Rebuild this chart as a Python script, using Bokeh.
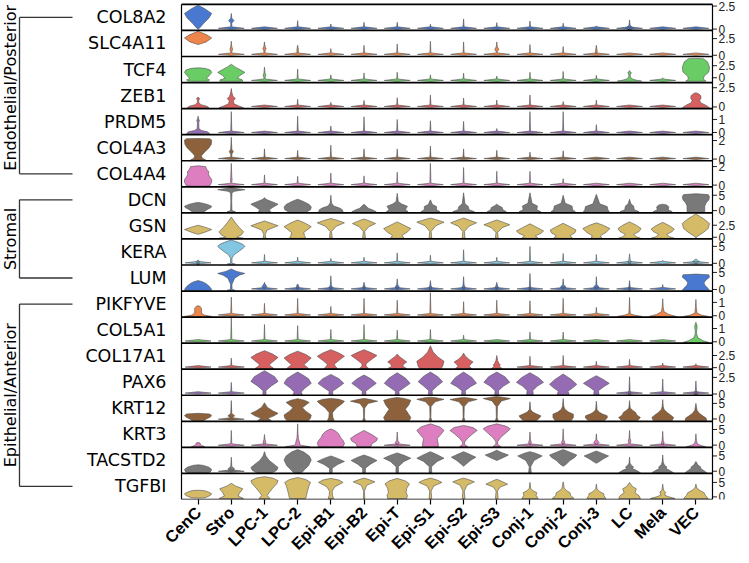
import math
from bokeh.plotting import figure
from bokeh.models import Range1d, FixedTicker
from bokeh.core.properties import value
from bokeh.embed import file_html
from bokeh.resources import INLINE

categories = ["CenC", "Stro", "LPC-1", "LPC-2", "Epi-B1", "Epi-B2", "Epi-T", "Epi-S1",
              "Epi-S2", "Epi-S3", "Conj-1", "Conj-2", "Conj-3", "LC", "Mela", "VEC"]
genes = ["COL8A2", "SLC4A11", "TCF4", "ZEB1", "PRDM5", "COL4A3", "COL4A4", "DCN", "GSN",
         "KERA", "LUM", "PIKFYVE", "COL5A1", "COL17A1", "PAX6", "KRT12", "KRT3", "TACSTD2", "TGFBI"]
groups = [("Endothelial/Posterior", 0, 6), ("Stromal", 7, 10), ("Epithelial/Anterior", 11, 18)]
y_lo = [-0.15, -0.19, -1.0, -0.22, -0.17, -0.18, -0.18, -0.73, -0.35, -0.49,
        -0.46, -0.1, -0.1, -0.32, -0.19, -0.75, -0.72, -0.73, -0.9]
y_hi = [2.68, 3.72, 4.4, 3.17, 1.83, 2.63, 2.63, 7.74, 5.08, 7.2,
        7.18, 1.85, 1.86, 5.04, 3.73, 7.6, 7.6, 7.8, 8.1]
y_tick_top = [2.5, 2.5, 2.5, 2.5, 1, 2, 2, 5, 2.5, 5, 5, 1, 1, 2.5, 2.5, 5, 5, 5, 5]
palette = ["#4878d0", "#ee854a", "#6acc64", "#d65f5f", "#956cb4", "#8c613c",
           "#dc7ec0", "#797979", "#d5bb67", "#82c6e2"]

# Violin descriptions per gene, one entry per cell type.
# number = thin violin (spike) reaching that expression value
# (top, y, w) = spike with a small bulge of relative width w at expression y
# list of (expression, relative half-width) = outline of a full violin
COL8A2 = [[(0.0, 0), (0.1, 0.1), (0.6, 0.4), (1.2, 0.8), (1.7, 1.0), (2.2, 0.5), (2.6, 0)],
          (1.7, 0.92, 0.2), 0, 0.92, 0.56, 0.74, 0.74, 0.53, 1.1, 0.7, 0.88, 0.64, 0.35,
          (1.0, 0.15, 0.25), 0, 0]
SLC4A11 = [[(1.6, 0), (2.0, 0.6), (2.6, 1.0), (3.1, 0.6), (3.6, 0)],
           (2.1, 0.9, 0.1), (2.0, 1.0, 0.12), (1.5, 0.7, 0.06), 1.0, 1.5, 1.7, 2.1, 2.0,
           (2.0, 0.9, 0.15), 1.6, 1.3, (1.5, 0.6, 0.06), 0, 0, 0]
TCF4 = [[(-0.75, 0), (-0.7, 0.75), (-0.45, 0.85), (-0.15, 0.6), (0.4, 0.8), (1.1, 1.0), (1.6, 0.9), (1.95, 0.5), (2.05, 0)],
        [(-0.75, 0), (-0.7, 0.85), (-0.4, 0.8), (-0.1, 0.45), (0.5, 0.65), (1.1, 1.0), (1.6, 0.7), (2.2, 0.3), (2.8, 0)],
        (2.2, 0.5, 0.1), 1.8, 0.6, 1.0, 1.15, 0.6, 0.95, 0.35, 1.15, 1.3, 0.5,
        [(-0.75, 0), (-0.7, 0.9), (-0.5, 0.5), (-0.2, 0.15), (0.3, 0.05), (0.8, 0.05), (0.9, 0.12), (1.1, 0.12), (1.25, 0.04), (1.5, 0)],
        0,
        [(-0.75, 0), (-0.7, 0.75), (-0.3, 0.55), (0.3, 0.6), (1.2, 0.95), (2.2, 1.0), (3.3, 0.85), (3.95, 0.55), (4.0, 0)]]
ZEB1 = [[(-0.15, 0), (-0.1, 0.8), (0.1, 0.65), (0.3, 0.2), (0.6, 0.05), (0.9, 0.05), (1.05, 0.12), (1.2, 0.05), (1.3, 0)],
        [(-0.15, 0), (-0.1, 0.9), (0.1, 0.6), (0.4, 0.2), (0.8, 0.15), (1.1, 0.3), (1.4, 0.12), (1.9, 0.04), (2.4, 0)],
        0, 1.0, 0.6, 0.85, 1.2, 1.55, 1.15, 0.9, 1.55, 0.7, 0.9, 0, 0,
        [(-0.15, 0), (-0.1, 1.0), (0.2, 0.75), (0.55, 0.35), (0.85, 0.28), (1.15, 0.38), (1.45, 0.36), (1.7, 0.22), (1.85, 0)]]
PRDM5 = [[(-0.12, 0), (-0.08, 0.85), (0.05, 0.7), (0.15, 0.25), (0.3, 0.06), (0.8, 0.05), (0.9, 0.1), (1.05, 0.04), (1.25, 0)],
         1.6, 0, 1.25, 0.5, 1.2, 1.0, 0.9, 0.85, 0.3, 1.6, 1.6, 0.6, 0, 0, 0]
COL4A3 = [[(-0.12, 0), (-0.08, 0.55), (0.1, 0.3), (0.35, 0.25), (0.7, 0.45), (1.2, 0.8), (1.6, 0.97), (2.05, 1.0), (2.2, 0.85), (2.22, 0)],
          (2.35, 0.8, 0.15), 1.1, 0.95, 1.5, 1.1, 1.1, 1.4, 1.1, 0.95, 0.75, 0.9, 0, 0, 0, 0]
COL4A4 = [[(-0.12, 0), (-0.08, 0.85), (0.3, 1.0), (0.6, 1.0), (0.9, 0.85), (1.2, 0.75), (1.45, 0.8), (1.65, 0.65), (2.0, 0.55), (2.08, 0)],
          (2.35, 0.6, 0.06), 1.1, 0.95, 1.3, 1.0, 1.4, 2.35, 1.9, 1.5, 1.5, 0.7, 0, 0, 0, 0]
DCN = [[(-0.4, 0), (-0.35, 0.45), (0.3, 0.65), (1.0, 0.95), (1.4, 1.0), (2.0, 0.7), (2.5, 0.25), (2.65, 0)],
       [(-0.4, 0), (-0.35, 0.3), (0.0, 0.05), (3.0, 0.03), (5.8, 0.05), (6.3, 0.25), (6.8, 1.0), (7.2, 0.35), (7.5, 0)],
       [(-0.4, 0), (-0.35, 0.45), (0.3, 0.35), (1.0, 0.6), (2.1, 1.0), (3.0, 0.5), (3.6, 0.15), (4.2, 0)],
       [(-0.4, 0), (-0.35, 0.7), (0.3, 0.95), (1.2, 1.0), (2.0, 0.85), (2.8, 0.5), (3.3, 0.25), (3.7, 0)],
       [(-0.4, 0), (-0.35, 0.9), (0.3, 0.85), (0.9, 0.6), (1.5, 0.2), (2.5, 0.05), (5.0, 0)],
       [(-0.4, 0), (-0.35, 0.9), (0.3, 0.6), (0.8, 0.3), (1.3, 0.2), (2.1, 0)],
       [(-0.4, 0), (-0.35, 0.8), (0.3, 0.6), (1.4, 0.75), (2.2, 0.3), (3.0, 0.08), (5.6, 0)],
       [(-0.4, 0), (-0.35, 0.7), (0.3, 0.45), (1.3, 0.45), (2.0, 0.15), (3.5, 0)],
       [(-0.4, 0), (-0.35, 0.8), (0.3, 0.4), (1.3, 0.35), (2.2, 0.1), (5.8, 0)],
       [(-0.4, 0), (-0.35, 0.7), (0.3, 0.45), (1.0, 0.4), (1.6, 0.15), (2.1, 0)],
       [(-0.4, 0), (-0.35, 0.8), (0.3, 0.5), (1.5, 0.55), (2.4, 0.15), (5.8, 0)],
       [(-0.4, 0), (-0.35, 0.9), (0.3, 0.7), (1.5, 0.65), (2.4, 0.15), (5.0, 0)],
       [(-0.4, 0), (-0.35, 0.95), (0.3, 0.85), (1.3, 0.8), (2.2, 0.25), (5.3, 0)],
       [(-0.4, 0), (-0.35, 0.7), (0.3, 0.35), (1.5, 0.3), (2.2, 0.1), (3.7, 0)],
       [(-0.4, 0), (-0.35, 0.7), (0.3, 0.4), (1.2, 0.45), (1.8, 0.3), (2.1, 0)],
       [(-0.4, 0), (-0.35, 0.65), (0.5, 0.65), (1.5, 0.65), (2.5, 0.75), (3.5, 0.95), (4.5, 1.0), (5.2, 0.9), (5.5, 0)]]
GSN = [[(0.6, 0), (1.0, 0.45), (1.6, 1.0), (2.1, 0.5), (2.5, 0)],
       [(-0.25, 0), (-0.2, 0.9), (0.0, 0.4), (0.5, 0.75), (1.15, 0.9), (2.0, 0.6), (3.0, 0.3), (4.2, 0)],
       [(-0.2, 0), (-0.15, 0.1), (0.6, 0.05), (1.5, 0.2), (2.4, 1.0), (3.0, 0.4), (3.4, 0)],
       [(-0.25, 0), (-0.2, 0.6), (0.3, 0.5), (1.0, 0.45), (2.2, 1.0), (3.0, 0.5), (3.6, 0)],
       [(-0.2, 0), (-0.15, 0.1), (1.2, 0.05), (2.3, 0.4), (3.0, 1.0), (3.5, 0.5), (3.9, 0)],
       [(-0.2, 0), (-0.15, 0.1), (1.2, 0.05), (2.2, 0.35), (2.85, 0.85), (3.4, 0.4), (3.8, 0)],
       [(-0.25, 0), (-0.2, 0.5), (0.4, 0.35), (1.0, 0.7), (1.8, 1.0), (2.5, 0.5), (3.2, 0)],
       [(-0.2, 0), (-0.15, 0.1), (1.2, 0.05), (2.4, 0.4), (3.15, 1.0), (3.6, 0.5), (4.0, 0)],
       [(-0.2, 0), (-0.15, 0.1), (1.2, 0.06), (2.3, 0.4), (3.0, 0.95), (3.6, 0.4), (4.0, 0)],
       [(-0.2, 0), (-0.15, 0.1), (1.0, 0.06), (2.0, 0.4), (2.6, 0.95), (3.2, 0.4), (3.6, 0)],
       [(-0.25, 0), (-0.2, 0.6), (0.3, 0.4), (0.8, 0.8), (1.3, 1.0), (2.0, 0.55), (2.8, 0)],
       [(-0.25, 0), (-0.2, 0.7), (0.3, 0.5), (0.9, 0.85), (1.5, 0.95), (2.2, 0.5), (2.9, 0)],
       [(-0.25, 0), (-0.2, 0.4), (0.3, 0.3), (1.0, 0.7), (1.8, 1.0), (2.5, 0.5), (3.0, 0)],
       [(-0.25, 0), (-0.2, 0.8), (0.1, 0.5), (0.6, 0.3), (1.2, 0.7), (1.8, 0.85), (2.5, 0.5), (3.2, 0)],
       [(-0.25, 0), (-0.2, 0.85), (0.1, 0.5), (0.6, 0.3), (1.2, 0.7), (1.7, 0.85), (2.4, 0.5), (3.1, 0)],
       [(-0.2, 0), (0.2, 0.1), (0.9, 0.5), (1.8, 0.9), (2.85, 1.0), (3.8, 0.6), (4.4, 0.25), (4.9, 0)]]
KERA = [(0.9, 0.2, 0.12),
        [(-0.3, 0), (-0.25, 0.3), (0.0, 0.05), (1.5, 0.05), (2.5, 0.2), (3.5, 0.55), (4.6, 0.9), (5.0, 1.0), (5.6, 0.85), (6.2, 0.5), (6.9, 0)],
        2.6, 1.8, 1.45, 1.8, 3.1, 2.4, 4.0, 1.8, 5.0, 2.9, 2.6, (2.8, 0.5, 0.12), 0.9, (1.15, 0.5, 0.25)]
LUM = [[(-0.3, 0), (-0.25, 1.0), (0.3, 0.95), (1.0, 0.8), (1.8, 0.55), (2.3, 0.3), (2.6, 0)],
       [(-0.3, 0), (-0.25, 0.3), (0.0, 0.06), (1.5, 0.05), (3.3, 0.25), (4.2, 0.6), (4.7, 1.0), (5.3, 0.4), (6.0, 0)],
       (2.1, 0.9, 0.18), (1.6, 0.7, 0.1), (4.0, 0.5, 0.15), (2.1, 0.6, 0.1), (3.1, 0.7, 0.15),
       (2.6, 0.5, 0.12), (3.75, 0.6, 0.12), (2.1, 0.6, 0.12), (4.7, 0.4, 0.08), (3.1, 0.7, 0.2),
       (3.75, 0.7, 0.2), (2.6, 0.4, 0.06), 1.45,
       [(-0.3, 0), (-0.25, 1.0), (0.5, 0.85), (1.3, 0.65), (2.0, 0.6), (2.8, 0.75), (3.6, 1.0), (4.3, 0.95), (4.5, 0)]]
PIKFYVE = [[(-0.07, 0), (-0.05, 1.0), (0.05, 0.45), (0.2, 0.25), (0.55, 0.25), (0.7, 0.15), (0.75, 0)],
           1.4, 0.93, 1.3, 0.7, 1.3, 1.17, 1.73, 1.05, 1.17, 1.12, 1.3, 0.63,
           [(-0.07, 0), (-0.05, 0.9), (0.05, 0.35), (0.15, 0.06), (0.5, 0.03), (1.37, 0)],
           [(-0.07, 0), (-0.05, 1.0), (0.1, 0.45), (0.3, 0.1), (0.6, 0.04), (1.27, 0)],
           [(-0.07, 0), (-0.05, 0.9), (0.05, 0.4), (0.2, 0.08), (0.6, 0.03), (1.22, 0)]]
COL5A1 = [0, 1.8, 1.3, 1.22, 0.93, 1.3, 0.88, 0.93, 0.5, 0, 0.73, 0.73, 0, 0, 0,
          [(-0.07, 0), (-0.05, 0.95), (0.1, 0.5), (0.3, 0.15), (0.6, 0.05), (0.9, 0.05), (1.0, 0.08), (1.25, 0.08), (1.35, 0.04), (1.47, 0)]]
COL17A1 = [0, 1.95,
           [(-0.22, 0), (-0.18, 0.7), (0.2, 0.5), (0.6, 0.35), (1.4, 0.7), (2.1, 1.0), (2.8, 0.6), (3.5, 0)],
           [(-0.22, 0), (-0.18, 0.8), (0.2, 0.65), (0.6, 0.45), (1.3, 0.75), (2.0, 1.0), (2.7, 0.6), (3.4, 0)],
           [(-0.22, 0), (-0.18, 0.5), (0.2, 0.35), (0.7, 0.25), (1.5, 0.6), (2.35, 1.0), (3.0, 0.6), (3.7, 0)],
           [(-0.22, 0), (-0.18, 0.35), (0.3, 0.15), (0.8, 0.15), (1.7, 0.55), (2.5, 0.95), (3.1, 0.5), (3.7, 0)],
           [(-0.22, 0), (-0.18, 0.7), (0.3, 0.4), (0.8, 0.5), (1.15, 0.7), (1.7, 0.45), (2.3, 0.15), (2.8, 0)],
           [(-0.22, 0), (-0.18, 0.8), (0.3, 0.9), (1.3, 1.0), (2.2, 0.55), (3.2, 0.2), (4.5, 0)],
           [(-0.22, 0), (-0.18, 0.6), (0.3, 0.4), (0.8, 0.55), (1.15, 0.7), (1.7, 0.4), (2.4, 0.12), (3.0, 0)],
           [(-0.22, 0), (-0.18, 0.4), (0.2, 0.2), (0.6, 0.25), (0.9, 0.15), (1.5, 0.06), (2.5, 0)],
           2.35, 2.5, 1.3, 1.7, 0.95, 0.8]
PAX6 = [0, 1.75,
        [(-0.12, 0), (-0.08, 0.12), (0.5, 0.1), (1.2, 0.5), (1.9, 1.0), (2.6, 0.75), (3.1, 0.35), (3.5, 0)],
        [(-0.12, 0), (-0.08, 0.35), (0.3, 0.25), (0.9, 0.55), (1.6, 1.0), (2.3, 0.8), (2.9, 0.35), (3.3, 0)],
        [(-0.12, 0), (-0.08, 0.15), (0.4, 0.12), (1.0, 0.55), (1.6, 0.95), (2.3, 0.6), (2.95, 0)],
        [(-0.12, 0), (-0.08, 0.15), (0.4, 0.12), (1.0, 0.5), (1.6, 0.9), (2.3, 0.5), (2.85, 0)],
        [(-0.12, 0), (-0.08, 0.15), (0.4, 0.12), (1.0, 0.55), (1.6, 0.95), (2.4, 0.6), (3.2, 0)],
        [(-0.12, 0), (-0.08, 0.15), (0.5, 0.12), (1.2, 0.5), (1.85, 0.9), (2.6, 0.55), (3.3, 0)],
        [(-0.12, 0), (-0.08, 0.15), (0.5, 0.12), (1.1, 0.5), (1.6, 0.95), (2.5, 0.6), (3.3, 0)],
        [(-0.12, 0), (-0.08, 0.15), (0.5, 0.12), (1.2, 0.5), (1.75, 0.95), (2.6, 0.6), (3.3, 0)],
        [(-0.12, 0), (-0.08, 0.25), (0.5, 0.2), (1.2, 0.55), (1.75, 1.0), (2.5, 0.6), (3.2, 0)],
        [(-0.12, 0), (-0.08, 0.45), (0.4, 0.35), (1.0, 0.75), (1.45, 1.0), (2.2, 0.6), (3.0, 0)],
        [(-0.12, 0), (-0.08, 0.2), (0.5, 0.15), (1.1, 0.55), (1.6, 0.95), (2.2, 0.5), (2.75, 0)],
        (2.6, 0.15, 0.1), 2.25, (1.95, 0.15, 0.15)]
KRT12 = [[(-0.55, 0), (-0.5, 0.45), (0.0, 0.6), (0.6, 0.9), (1.1, 1.0), (1.6, 0.85), (1.8, 0)],
         (5.9, 1.0, 0.25),
         [(-0.55, 0), (-0.5, 0.5), (0.2, 0.25), (1.0, 0.7), (1.8, 1.0), (2.6, 0.6), (3.8, 0.2), (5.2, 0)],
         [(-0.55, 0), (-0.5, 0.8), (0.3, 0.95), (1.3, 1.0), (2.5, 0.6), (3.6, 0.35), (4.5, 0.6), (5.3, 0.85), (6.0, 0.5), (6.5, 0)],
         [(-0.55, 0), (-0.5, 0.25), (0.5, 0.15), (2.0, 0.12), (3.5, 0.4), (5.0, 0.85), (5.7, 1.0), (6.3, 0.6), (6.6, 0)],
         [(-0.55, 0), (-0.5, 0.1), (0.5, 0.03), (3.5, 0.05), (5.0, 0.3), (5.7, 1.0), (6.3, 0.4), (6.6, 0)],
         [(-0.55, 0), (-0.5, 0.9), (0.5, 1.0), (1.8, 0.8), (3.1, 0.6), (4.5, 0.85), (6.0, 1.0), (6.6, 0.5), (6.9, 0)],
         [(-0.55, 0), (-0.5, 0.1), (0.5, 0.03), (4.0, 0.05), (5.5, 0.35), (6.3, 1.0), (6.8, 0.4), (7.0, 0)],
         [(-0.55, 0), (-0.5, 0.1), (0.5, 0.03), (4.0, 0.05), (5.5, 0.35), (6.25, 1.0), (6.7, 0.4), (6.9, 0)],
         [(-0.55, 0), (-0.5, 0.1), (0.5, 0.03), (4.0, 0.05), (5.8, 0.35), (6.55, 1.0), (7.0, 0.4), (7.2, 0)],
         [(-0.55, 0), (-0.5, 0.5), (0.3, 0.7), (1.0, 0.8), (1.6, 0.5), (2.2, 0.2), (3.0, 0.05), (5.5, 0)],
         [(-0.55, 0), (-0.5, 0.6), (0.5, 0.75), (1.55, 0.75), (2.2, 0.4), (3.0, 0.15), (4.0, 0.05), (6.55, 0)],
         [(-0.55, 0), (-0.5, 0.6), (0.3, 0.8), (1.0, 0.8), (1.6, 0.45), (2.2, 0.2), (3.0, 0.05), (5.7, 0)],
         [(-0.55, 0), (-0.5, 0.6), (0.5, 0.8), (1.2, 0.55), (2.1, 0.45), (2.7, 0.25), (3.5, 0.05), (5.9, 0)],
         [(-0.55, 0), (-0.5, 0.7), (0.5, 0.8), (1.2, 0.6), (2.0, 0.35), (3.0, 0.1), (4.0, 0.04), (6.2, 0)],
         [(-0.55, 0), (-0.5, 0.8), (0.3, 0.75), (1.0, 0.5), (1.8, 0.25), (2.8, 0.08), (5.0, 0)]]
KRT3 = [[(-0.55, 0), (-0.5, 0.5), (0.0, 0.2), (0.4, 0.15), (0.7, 0.15), (0.8, 0)],
        4.7, (3.4, 1.0, 0.1),
        [(-0.55, 0), (-0.5, 0.9), (0.0, 0.2), (0.6, 0.15), (1.2, 0.12), (2.0, 0.06), (3.5, 0.03), (6.8, 0)],
        [(-0.55, 0), (-0.5, 0.9), (0.5, 1.0), (1.5, 0.9), (2.5, 0.7), (3.5, 0.6), (4.5, 0.35), (5.2, 0)],
        [(-0.55, 0), (-0.5, 0.5), (0.5, 0.6), (1.3, 0.9), (2.1, 1.0), (3.3, 0.6), (4.7, 0)],
        (4.2, 0.8, 0.15),
        [(-0.55, 0), (-0.5, 0.6), (1.0, 0.55), (2.1, 0.5), (3.3, 0.75), (4.7, 1.0), (5.8, 0.7), (6.8, 0)],
        [(-0.55, 0), (-0.5, 0.3), (0.3, 0.06), (1.0, 0.08), (2.2, 0.3), (3.7, 0.7), (4.7, 1.0), (5.6, 0.7), (6.3, 0)],
        [(-0.55, 0), (-0.5, 0.3), (0.3, 0.06), (1.2, 0.08), (2.5, 0.3), (4.0, 0.7), (5.2, 1.0), (6.0, 0.7), (6.8, 0)],
        (4.2, 0.9, 0.1), (5.2, 0.9, 0.12), (3.6, 0.9, 0.2), (4.7, 1.3, 0.1), (4.4, 0.8, 0.1),
        [(-0.55, 0), (-0.5, 0.7), (0.0, 0.3), (0.5, 0.1), (1.5, 0.04), (3.6, 0)]]
TACSTD2 = [[(-0.55, 0), (-0.5, 0.8), (0.0, 0.95), (0.6, 1.0), (1.3, 0.8), (1.9, 0.4), (2.1, 0)],
           (4.6, 0.75, 0.25),
           [(-0.55, 0), (-0.5, 0.6), (0.3, 0.9), (1.2, 1.0), (2.3, 0.7), (3.5, 0.35), (5.0, 0.1), (6.4, 0)],
           [(-0.55, 0), (-0.5, 0.3), (0.5, 0.5), (1.8, 0.8), (3.7, 1.0), (5.0, 0.85), (6.3, 0.45), (7.1, 0)],
           [(-0.55, 0), (-0.5, 0.1), (1.0, 0.1), (2.2, 0.5), (3.2, 1.0), (4.2, 0.5), (5.0, 0)],
           [(-0.55, 0), (-0.5, 0.1), (1.0, 0.1), (2.4, 0.5), (3.5, 0.95), (4.5, 0.5), (5.3, 0)],
           [(-0.55, 0), (-0.5, 0.1), (1.5, 0.08), (3.2, 0.5), (4.25, 1.0), (5.2, 0.5), (6.0, 0)],
           [(-0.55, 0), (-0.5, 0.1), (1.5, 0.08), (3.2, 0.5), (4.25, 1.0), (5.4, 0.5), (6.4, 0)],
           [(1.6, 0), (2.2, 0.15), (3.5, 0.5), (4.6, 0.9), (5.6, 0.4), (6.4, 0)],
           [(3.5, 0), (3.9, 0.2), (4.5, 0.5), (5.3, 0.85), (6.1, 0.35), (6.9, 0)],
           [(-0.55, 0), (-0.5, 0.1), (1.5, 0.05), (3.5, 0.3), (5.0, 0.9), (5.9, 0.4), (6.4, 0)],
           [(1.6, 0), (2.2, 0.2), (3.5, 0.5), (4.5, 0.85), (5.3, 1.0), (6.3, 0.45), (7.1, 0)],
           [(2.6, 0), (3.1, 0.2), (4.0, 0.5), (5.0, 0.9), (5.9, 0.4), (6.6, 0)],
           [(-0.55, 0), (-0.5, 0.8), (0.3, 0.5), (0.9, 0.2), (1.4, 0.3), (1.9, 0.15), (2.6, 0.04), (4.6, 0)],
           [(-0.55, 0), (-0.5, 0.8), (0.3, 0.5), (0.9, 0.25), (1.4, 0.3), (2.0, 0.12), (3.0, 0.04), (5.3, 0)],
           [(-0.55, 0), (-0.5, 0.8), (0.3, 0.55), (0.9, 0.35), (1.4, 0.35), (2.0, 0.15), (3.2, 0)]]
TGFBI = [[(-0.4, 0), (-0.3, 0.5), (0.5, 0.9), (1.1, 1.0), (1.8, 0.7), (2.2, 0.4), (2.3, 0)],
         [(-0.6, 0), (-0.55, 0.9), (0.3, 0.5), (1.3, 0.6), (2.8, 0.85), (3.8, 0.3), (4.7, 0)],
         [(-0.6, 0), (-0.55, 0.4), (0.5, 0.2), (1.5, 0.35), (3.0, 0.6), (4.5, 0.9), (5.6, 1.0), (6.5, 0.6), (7.0, 0)],
         [(-0.6, 0), (-0.55, 0.6), (0.5, 0.65), (1.5, 0.7), (2.5, 0.75), (4.0, 0.85), (5.0, 0.95), (6.0, 0.6), (6.7, 0)],
         [(-0.6, 0), (-0.55, 0.2), (0.5, 0.12), (2.0, 0.1), (3.5, 0.3), (5.0, 0.9), (5.8, 0.6), (6.4, 0)],
         [(-0.6, 0), (-0.55, 0.05), (2.0, 0.03), (4.0, 0.2), (5.2, 0.8), (5.9, 0.4), (6.5, 0)],
         [(-0.6, 0), (-0.55, 0.7), (0.5, 0.75), (1.5, 0.65), (3.0, 0.7), (4.5, 0.9), (5.5, 0.6), (6.4, 0)],
         [(-0.6, 0), (-0.55, 0.1), (2.0, 0.05), (3.8, 0.25), (5.0, 0.85), (5.8, 0.5), (6.5, 0)],
         [(-0.6, 0), (-0.55, 0.1), (2.0, 0.05), (4.0, 0.25), (5.2, 0.8), (5.9, 0.4), (6.5, 0)],
         [(-0.6, 0), (-0.55, 0.1), (2.0, 0.05), (3.4, 0.25), (4.4, 0.8), (5.3, 0.4), (6.1, 0)],
         [(-0.6, 0), (-0.55, 0.6), (0.5, 0.45), (1.45, 0.5), (2.2, 0.2), (3.0, 0.05), (5.0, 0)],
         [(-0.6, 0), (-0.55, 0.8), (0.5, 0.55), (1.45, 0.5), (2.2, 0.25), (3.0, 0.08), (5.2, 0)],
         [(-0.6, 0), (-0.55, 0.7), (0.5, 0.55), (1.1, 0.55), (1.8, 0.25), (2.8, 0.05), (4.4, 0)],
         [(-0.6, 0), (-0.55, 0.8), (0.4, 0.7), (1.4, 0.4), (2.8, 0.5), (3.6, 0.2), (5.0, 0)],
         [(-0.6, 0), (-0.55, 0.9), (0.1, 0.4), (0.6, 0.15), (1.7, 0.2), (2.3, 0.06), (4.4, 0)],
         [(-0.6, 0), (-0.55, 0.9), (0.5, 0.7), (1.45, 0.6), (2.2, 0.3), (3.0, 0.08), (4.4, 0)]]
violins = [COL8A2, SLC4A11, TCF4, ZEB1, PRDM5, COL4A3, COL4A4, DCN, GSN, KERA, LUM,
           PIKFYVE, COL5A1, COL17A1, PAX6, KRT12, KRT3, TACSTD2, TGFBI]

# ---------------- layout ----------------
W, H = 748, 562
TOP_M, PLOT_H = 4, 507
BOT_M = H - TOP_M - PLOT_H
NG = len(genes)
ROW_PX = PLOT_H / NG
PX0 = 181                # left edge of the violin box inside the canvas
BOX_W = 531
PXU_X = BOX_W / len(categories)
HALF_W = 0.41            # max half-width of a violin (category units)


def px_x(px):            # canvas pixel -> x data
    return -0.5 + (px - PX0) / PXU_X


x_start = px_x(0)
x_end = px_x(W)
y_top = NG + TOP_M / ROW_PX

p = figure(width=W, height=H, x_range=Range1d(x_start, x_end), y_range=Range1d(0, y_top),
           output_backend="svg", toolbar_location=None, min_border=0,
           min_border_bottom=BOT_M, y_axis_location=None)
p.outline_line_color = None
p.xgrid.visible = False
p.ygrid.visible = False
p.background_fill_color = "white"


def outline(entry, lo, pxu):
    if isinstance(entry, list):
        return entry
    if isinstance(entry, tuple):
        top, by, bw = entry
    else:
        top, by, bw = entry, None, None
    y0 = lo + 1.2 / pxu
    if top <= y0 + 3.0 / pxu:
        return [(y0, 0.0), (y0 + 1.0 / pxu, 0.95), (y0 + 2.5 / pxu, 0.0)]
    k = [(y0, 0.0), (y0 + 1.0 / pxu, 0.95), (y0 + 2.5 / pxu, 0.04)]
    if by is not None:
        d = 2.5 / pxu
        k += [(by - d, 0.04), (by, bw), (by + d, 0.04)]
    k.append((top, 0.0))
    return k


ranges = {}
for gi, g in enumerate(genes):
    lo, hi = y_lo[gi], y_hi[gi]
    span = hi - lo
    below = NG - 1 - gi
    ranges[g] = Range1d(lo - below * span, lo + (y_top - below) * span)
p.extra_y_ranges = ranges

for gi, g in enumerate(genes):
    lo, hi = y_lo[gi], y_hi[gi]
    pxu = ROW_PX / (hi - lo)
    xs, ys = [], []
    for ci, entry in enumerate(violins[gi]):
        k = outline(entry, lo, pxu)
        left = [ci - w * HALF_W for (_, w) in k]
        right = [ci + w * HALF_W for (_, w) in reversed(k)]
        xs.append(left + right)
        ys.append([y for (y, _) in k] + [y for (y, _) in reversed(k)])
    color = palette[gi % len(palette)]
    p.patches(xs=xs, ys=ys, y_range_name=g, fill_color=color, fill_alpha=1.0,
              line_color="#505050", line_width=0.6)

    # right-hand ticks for this gene
    tvals = [0, y_tick_top[gi]]
    tlabels = ["0" if t == 0 else ("%g" % t) for t in tvals]
    p.segment(x0=[15.5] * 2, x1=[15.5 + 4.5 / PXU_X] * 2, y0=tvals, y1=tvals,
              y_range_name=g, line_color="#222222", line_width=1.0)
    p.text(x=[15.5 + 6.0 / PXU_X] * 2, y=tvals, text=tlabels, y_range_name=g,
           text_align="left", text_baseline="middle", text_color="#222222",
           text_font=value("Liberation Sans"), text_font_size="12px")

# row separators and box
p.segment(x0=[-0.5] * (NG + 1), x1=[15.5] * (NG + 1), y0=list(range(NG + 1)),
          y1=list(range(NG + 1)), line_color="black", line_width=1.7)
p.segment(x0=[-0.5, 15.5], x1=[-0.5, 15.5], y0=[0, 0], y1=[NG, NG],
          line_color="black", line_width=1.2)

# gene names
p.text(x=[px_x(166)] * NG, y=[NG - 0.5 - i for i in range(NG)], text=genes,
       text_align="right", text_baseline="middle", text_color="black",
       text_font=value("DejaVu Sans"), text_font_size="17.5px")

# group brackets
bx = px_x(19)
barm = px_x(72)
label_shift = [0.3, 0.0, 0.0]
for (name, a, b), sh in zip(groups, label_shift):
    ya, yb = NG - 0.5 - a, NG - 0.5 - b
    p.segment(x0=[bx, bx, bx], x1=[bx, barm, barm], y0=[ya, ya, yb], y1=[yb, ya, yb],
              line_color="#333333", line_width=1.3)
    p.text(x=[px_x(10)], y=[(ya + yb) / 2 + sh], text=[name], angle=math.pi / 2,
           text_align="center", text_baseline="middle", text_color="black",
           text_font=value("DejaVu Sans"), text_font_size="16px")

# category axis
ax = p.xaxis[0]
ax.ticker = FixedTicker(ticks=list(range(len(categories))))
ax.major_label_overrides = {i: c for i, c in enumerate(categories)}
ax.major_label_orientation = math.pi / 4
ax.major_label_text_font = "Liberation Sans"
ax.major_label_text_font_style = "bold"
ax.major_label_text_font_size = "16.5px"
ax.major_label_text_color = "black"
ax.axis_line_color = None
ax.major_tick_line_color = "black"
ax.major_tick_line_width = 1.2
ax.major_tick_out = 5
ax.major_tick_in = 0
ax.minor_tick_line_color = None
ax.major_label_standoff = 5

open("out.html", "w").write(file_html(p, INLINE))
